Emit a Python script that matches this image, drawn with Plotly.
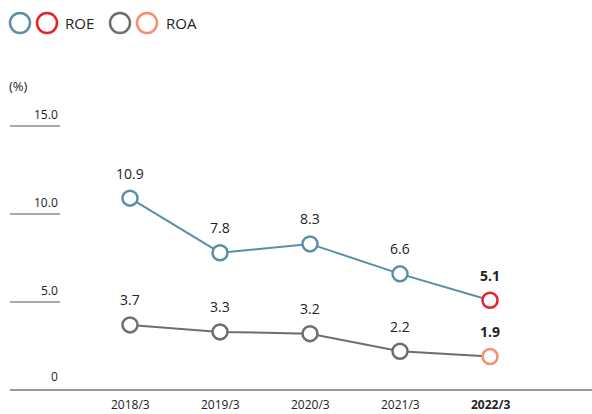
import plotly.graph_objects as go

years = ["2018/3", "2019/3", "2020/3", "2021/3", "2022/3"]
roe = [10.9, 7.8, 8.3, 6.6, 5.1]
roa = [3.7, 3.3, 3.2, 2.2, 1.9]
y_ticks = [0, 5, 10, 15]
y_tick_labels = ["0", "5.0", "10.0", "15.0"]

BLUE = "#5b8fa8"
RED = "#e8202a"
GRAY = "#6e6e6e"
ORANGE = "#f4906a"
FONT = "Open Sans"
TXT = "#222222"

W, H = 592, 414


def px(x):
    return x / W


def py(y):
    return 1 - y / H


idx = list(range(len(years)))
last = len(years) - 1

fig = go.Figure()

for vals, line_col, last_col in [(roe, BLUE, RED), (roa, GRAY, ORANGE)]:
    cols = [line_col] * last + [last_col]
    fig.add_trace(go.Scatter(
        x=idx, y=vals, mode="lines+markers",
        line=dict(color=line_col, width=2),
        marker=dict(size=15, color="white", line=dict(color=cols, width=2.5)),
        hoverinfo="skip", showlegend=False,
    ))
    # value labels
    for i, v in zip(idx, vals):
        fig.add_annotation(
            x=i, y=v, text=f"<b>{v:.1f}</b>" if i == last else f"{v:.1f}",
            showarrow=False, yshift=25, xref="x", yref="y",
            font=dict(size=14, color=TXT, family=FONT),
        )

# y tick labels with short rules
for t, lab in zip(y_ticks, y_tick_labels):
    if t > 0:
        fig.add_shape(type="line", xref="paper", yref="y",
                      x0=px(10), x1=px(60), y0=t, y1=t,
                      line=dict(color="#555555", width=1))
    fig.add_annotation(x=px(60), y=t, xref="paper", yref="y",
                       text=lab, showarrow=False, xanchor="right",
                       yanchor="bottom", yshift=3 if t == 0 else 1,
                       font=dict(size=12, color=TXT, family=FONT))

# baseline
fig.add_shape(type="line", xref="paper", yref="y",
              x0=px(10), x1=1, y0=0, y1=0,
              line=dict(color="#777777", width=1.5))

# x labels
for i, yr in zip(idx, years):
    fig.add_annotation(x=i, y=0, xref="x", yref="y",
                       text=f"<b>{yr}</b>" if i == last else yr,
                       showarrow=False, yanchor="top", yshift=-5,
                       borderpad=0,
                       font=dict(size=12, color=TXT, family=FONT))

fig.add_annotation(x=px(7), y=py(86), xref="paper", yref="paper",
                   text="(%)", showarrow=False, xanchor="left",
                   yanchor="middle",
                   font=dict(size=13, color=TXT, family=FONT))

# legend (drawn manually)
legend_items = [(20, BLUE), (47, RED), (120, GRAY), (147, ORANGE)]
for cx, col in legend_items:
    fig.add_shape(type="circle", xref="paper", yref="paper",
                  x0=px(cx - 10), x1=px(cx + 10),
                  y0=py(33), y1=py(13),
                  line=dict(color=col, width=2.5), fillcolor="white")
for tx, lab in [(63, "ROE"), (164, "ROA")]:
    fig.add_annotation(x=px(tx), y=py(23), xref="paper", yref="paper",
                       text=lab, showarrow=False, xanchor="left",
                       yanchor="middle",
                       font=dict(size=15, color=TXT, family=FONT))

px_per_unit = 17.6
zero_px = 390
x0_px = 130
fig.update_layout(
    width=W, height=H,
    margin=dict(l=0, r=0, t=0, b=0),
    paper_bgcolor="white", plot_bgcolor="white",
    xaxis=dict(range=[-x0_px / 90, (W - x0_px) / 90], visible=False),
    yaxis=dict(range=[(zero_px - H) / px_per_unit, zero_px / px_per_unit],
               visible=False),
)

# drop the default 8px page margin so the figure fills the window
fig.write_html("out.html",
               config={"displayModeBar": False},
               post_script="document.body.style.margin='0';"
                           "document.body.style.overflow='hidden';")
